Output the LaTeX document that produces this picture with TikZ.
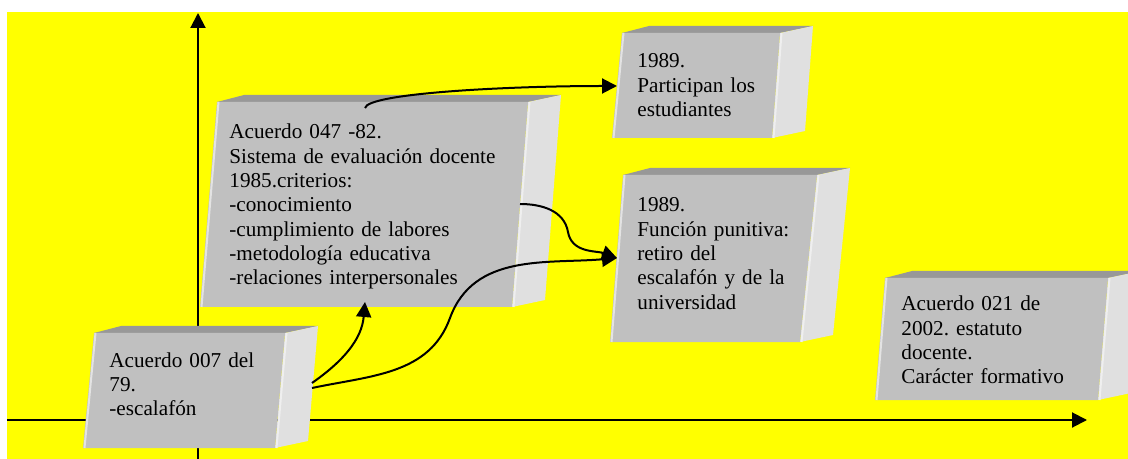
\documentclass[tikz,border=0pt]{standalone}
\usepackage{fontspec}
\setmainfont{Liberation Serif}
\usetikzlibrary{arrows.meta}
\definecolor{fondo}{RGB}{255,255,0}
\definecolor{frente}{RGB}{192,192,192}
\definecolor{techo}{RGB}{152,152,152}
\definecolor{lado}{RGB}{224,224,224}
\tikzset{x=0.5pt,y=0.5pt}
\tikzset{flecha/.style={line width=1pt,-{Triangle[length=7.5pt,width=7.5pt]}}}
\newcommand\caja[4]{%
  \fill[techo] (#1) -- ++(27,7) -- ([shift={(33,7)}]#2) -- (#2) -- cycle;
  \fill[lado] (#2) -- ++(33,7) -- ([shift={(33,7)}]#3) -- (#3) -- cycle;
  \fill[frente] (#1) -- (#2) -- (#3) -- (#4) -- cycle;
  \draw[line width=1pt,white!55!frente] ([shift={(1.5,0)}]#4) -- ([shift={(1.5,0)}]#1);
  \draw[line width=1pt,white!50!lado] ([shift={(1.5,0)}]#3) -- ([shift={(1.5,0)}]#2);
}

\begin{document}
\begin{tikzpicture}[texto/.style={anchor=base west,inner sep=0pt,text width=180pt,align=left,font=\fontsize{10.6}{12.15}\selectfont\frenchspacing}]
    \useasboundingbox (0,0) rectangle (1128,-459);
    \clip (0,0) rectangle (1128,-459);
    \fill[fondo] (7,-12) rectangle (1128,-459);

    \coordinate (ejeY0) at (198,-459);
    \coordinate (ejeY1) at (198,-13);
    \coordinate (ejeX0) at (7,-420);
    \coordinate (ejeX1) at (1087,-420);
    \draw[flecha] (ejeY0) -- (ejeY1);
    \draw[flecha] (ejeX0) -- (ejeX1);

    \caja{94,-333}{285,-333}{275,-448}{83,-448}
    \caja{217,-102}{528,-102}{512,-307}{200,-307}
    \caja{622,-33}{780,-33}{772,-138}{612,-138}
    \caja{623,-175}{817,-175}{800,-342}{610,-342}
    \caja{885,-278}{1108,-278}{1098,-400}{875,-400}

    \node[texto] (A007) at (109,-367) {Acuerdo 007 del\\79.\\-escalafón};
    \node[texto] (A047) at (229,-139) {Acuerdo 047 -82.\\Sistema de evaluación docente\\1985.criterios:\\-conocimiento\\-cumplimiento de labores\\-metodología educativa\\-relaciones interpersonales};
    \node[texto] (P89) at (637,-68) {1989.\\Participan los\\estudiantes};
    \node[texto] (F89) at (637,-212) {1989.\\Función punitiva:\\retiro del\\escalafón y de la\\universidad};
    \node[texto] (A021) at (901,-311) {Acuerdo 021 de\\2002. estatuto\\docente.\\Carácter formativo};

    \coordinate (A047top) at (365,-108);
    \coordinate (A047der) at (520,-204);
    \coordinate (A047bot) at (365,-302);
    \coordinate (P89izq) at (617,-86);
    \coordinate (F89izq) at (617,-258);
    \coordinate (A007a) at (312,-383);
    \coordinate (A007b) at (312,-388);
    \coordinate (m2) at (568,-232);
    \coordinate (m4) at (450,-318);

    \draw[flecha] (A047top) .. controls +(80:15) and +(180:110) .. (P89izq);
    \draw[flecha] (A047der) to[out=0,in=100] (m2) to[out=-80,in=160] (F89izq);
    \draw[flecha] (A007a) to[out=35,in=-95] (A047bot);
    \draw[flecha] (A007b) to[out=12,in=-110] (m4) to[out=70,in=185] (F89izq);
\end{tikzpicture}
\end{document}
